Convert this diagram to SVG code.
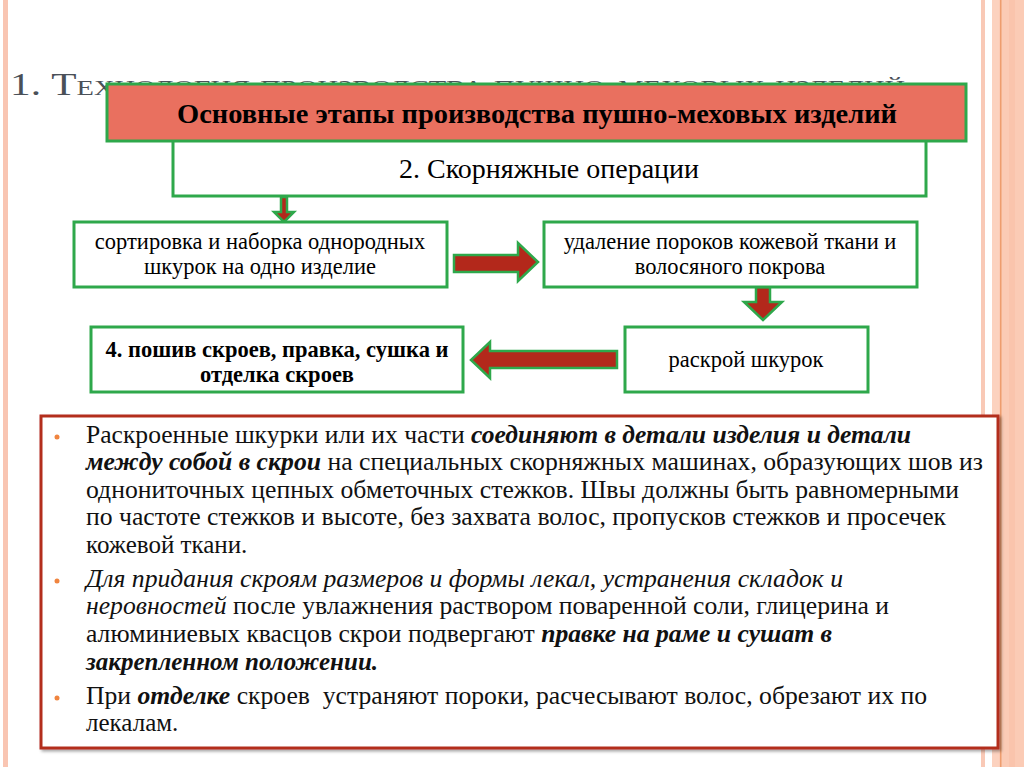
<svg xmlns="http://www.w3.org/2000/svg" width="1024" height="767" viewBox="0 0 1024 767" font-family="Liberation Serif, serif">
<style>
.box{fill:#fff;stroke:#2EA84B;stroke-width:3}
.arrow{fill:#B3281B;stroke:#2EA84B;stroke-width:2.5;stroke-linejoin:miter}
.bi{font-weight:bold;font-style:italic}
.it{font-style:italic}
.bullet{fill:#F0843F}
</style>
<defs>
<filter id="sh" x="-5%" y="-5%" width="110%" height="110%">
<feDropShadow dx="2" dy="2" stdDeviation="1.5" flood-color="#000" flood-opacity="0.35"/>
</filter>
</defs>
<rect width="1024" height="767" fill="#fff"/>
<rect x="3" y="0" width="5" height="767" fill="#F9C5B2"/>
<rect x="981" y="0" width="4" height="767" fill="#F9C9B6"/>
<rect x="992" y="0" width="32" height="767" fill="#FBCBB5"/>
<rect x="992" y="0" width="7" height="767" fill="#FCD2BF"/>
<rect x="1000" y="0" width="1.5" height="767" fill="#EE9D6E"/>
<rect x="1009" y="0" width="6" height="767" fill="#FAC4AC"/>

<text id="title" x="10" y="95" font-size="32" fill="#4A5058" font-variant="small-caps" textLength="895" lengthAdjust="spacingAndGlyphs">1. Технология производства пушно-меховых изделий</text>

<g id="connectors">
<polygon class="arrow" points="281,197 287,197 287,212 294,212 284,222 274,212 281,212"/>
<polygon class="arrow" points="454,255 518,255 518,243 538,262 518,281 518,272 454,272"/>
<polygon class="arrow" points="756,287 770,287 770,302 782,302 763,320 744,302 756,302"/>
<polygon class="arrow" points="617,351 490,351 490,342 471,360 490,378 490,368 617,368"/>
</g>

<g id="node-stage2">
<rect class="box" x="173" y="140" width="753" height="56"/>
<text x="549" y="178" text-anchor="middle" font-size="28">2. Скорняжные операции</text>
</g>
<g id="node-header">
<rect x="107" y="84" width="859" height="57" fill="#E9705F" stroke="#2EA84B" stroke-width="3"/>
<text x="537" y="123" text-anchor="middle" font-size="27" font-weight="bold" textLength="720" lengthAdjust="spacingAndGlyphs">Основные этапы производства пушно-меховых изделий</text>
</g>
<g id="node-sort">
<rect class="box" x="74" y="222" width="373" height="65"/>
<text x="260" y="249" text-anchor="middle" font-size="22.5">сортировка и наборка однородных</text>
<text x="260" y="274" text-anchor="middle" font-size="22.5">шкурок на одно изделие</text>
</g>
<g id="node-defects">
<rect class="box" x="544" y="222" width="373" height="65"/>
<text x="730" y="249" text-anchor="middle" font-size="22.5">удаление пороков кожевой ткани и</text>
<text x="730" y="274" text-anchor="middle" font-size="22.5">волосяного покрова</text>
</g>
<g id="node-cut">
<rect class="box" x="625" y="327" width="243" height="65"/>
<text x="746" y="367" text-anchor="middle" font-size="22.5">раскрой шкурок</text>
</g>
<g id="node-sew">
<rect class="box" x="91" y="327" width="372" height="65"/>
<text x="277" y="357" text-anchor="middle" font-size="22.5" font-weight="bold">4. пошив скроев, правка, сушка и</text>
<text x="277" y="382" text-anchor="middle" font-size="22.5" font-weight="bold">отделка скроев</text>
</g>

<g id="node-text">
<rect x="41" y="416" width="957" height="332" fill="#fff" stroke="#B32F1E" stroke-width="3" filter="url(#sh)"/>
<circle class="bullet" cx="57" cy="437" r="2.5"/>
<circle class="bullet" cx="57" cy="581" r="2.5"/>
<circle class="bullet" cx="57" cy="698" r="2.5"/>
<g font-size="25" fill="#111">
<text x="86" y="443" textLength="825" lengthAdjust="spacingAndGlyphs">Раскроенные шкурки или их части <tspan class="bi">соединяют в детали изделия и детали</tspan></text>
<text x="86" y="470" textLength="897" lengthAdjust="spacingAndGlyphs"><tspan class="bi">между собой в скрои</tspan> на специальных скорняжных машинах, образующих шов из</text>
<text x="86" y="498" textLength="873" lengthAdjust="spacingAndGlyphs">однониточных цепных обметочных стежков. Швы должны быть равномерными</text>
<text x="86" y="525" textLength="860" lengthAdjust="spacingAndGlyphs">по частоте стежков и высоте, без захвата волос, пропусков стежков и просечек</text>
<text x="86" y="553">кожевой ткани.</text>
<text x="86" y="587" class="it" textLength="757" lengthAdjust="spacingAndGlyphs">Для придания скроям размеров и формы лекал, устранения складок и</text>
<text x="86" y="614" textLength="803" lengthAdjust="spacingAndGlyphs"><tspan class="it">неровностей</tspan> после увлажнения раствором поваренной соли, глицерина и</text>
<text x="86" y="642" textLength="746" lengthAdjust="spacingAndGlyphs">алюминиевых квасцов скрои подвергают <tspan class="bi">правке на раме и сушат в</tspan></text>
<text x="86" y="670" class="bi">закрепленном положении.</text>
<text x="86" y="704" xml:space="preserve" textLength="841" lengthAdjust="spacingAndGlyphs">При <tspan class="bi">отделке</tspan> скроев  устраняют пороки, расчесывают волос, обрезают их по</text>
<text x="86" y="731">лекалам.</text>
</g>
</g>
</svg>
